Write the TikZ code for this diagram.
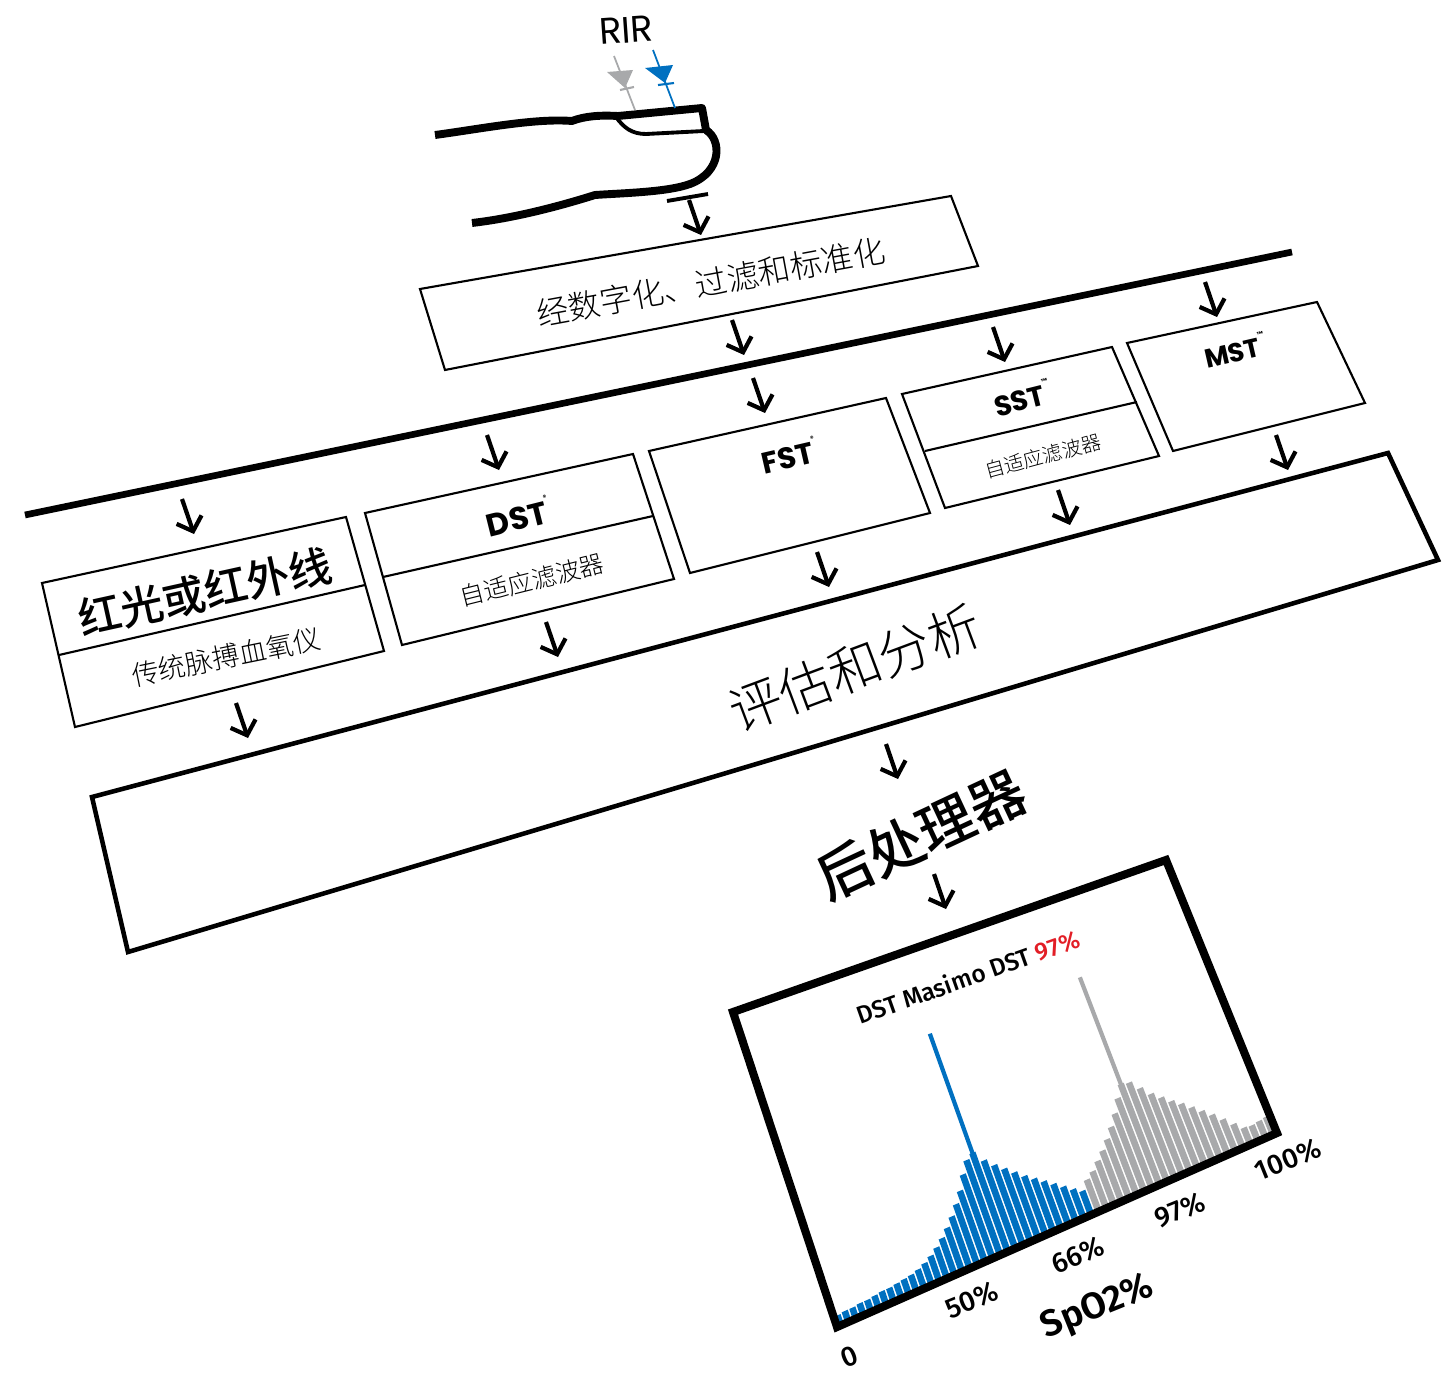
\documentclass[tikz,border=0pt]{standalone}
\usepackage{fontspec}
\setmainfont{Poppins}
\newfontfamily\cjk{Noto Sans CJK SC Medium}
\newfontfamily\cjklight{Noto Sans CJK SC Light}
\newfontfamily\din{Fira Sans Medium}
\newfontfamily\dinbold{Fira Sans SemiBold}
\usetikzlibrary{arrows.meta,calc}

\definecolor{sblue}{RGB}{0,112,192}
\definecolor{sgrey}{RGB}{168,169,171}
\definecolor{sred}{RGB}{226,30,38}

\newcommand{\fs}[1]{\fontsize{#1}{#1}\selectfont}
\newcommand{\regmark}{\raisebox{1.3ex}{\fontsize{4pt}{4pt}\selectfont\char"00AE}}
\newcommand{\tmmark}{\raisebox{1.3ex}{\fontsize{4pt}{4pt}\selectfont\char"2122}}

\begin{document}
\begin{tikzpicture}[x=0.02cm,y=-0.02cm,
  flow/.style={line width=2.4pt,-{Straight Barb[length=7pt,width=15pt]}},
  finger/.style={line width=4.5pt,line join=round},
  thinbox/.style={line width=1.2pt,line join=miter},
  txt/.style={inner sep=0pt}]

  \useasboundingbox (0,0) rectangle (1453,1372);

  % Finger and sensor
  \draw[finger] (435,135) .. controls (480,129) and (535,118) .. (572,121)
    .. controls (585,116) and (600,115) .. (618,116) -- (702,108) -- (706,130)
    .. controls (722,140) and (722,172) .. (690,184)
    .. controls (668,192) and (625,193) .. (595,195)
    .. controls (560,206) and (515,218) .. (472,223);
  \draw[line width=2.2pt] (616,117) .. controls (624,128) and (632,134) .. (646,134) -- (704,131);
  \draw[line width=2.2pt] (667,201) -- (708,194);

  % LEDs
  \draw[sgrey,line width=1pt] (614,56) -- (635,110);
  \fill[sgrey] (607,72) -- (633,70) -- (625,88) -- cycle;
  \draw[sgrey,line width=1.2pt] (620,90) -- (634,87);
  \draw[sblue,line width=1pt] (653,50) -- (675,108);
  \fill[sblue] (645,68) -- (673,65) -- (665,83) -- cycle;
  \draw[sblue,line width=1.2pt] (658,85) -- (674,83);
  \node[txt,rotate=4] (rir) at (626,30) {\fs{21pt}RIR};

  % Bus
  \draw[line width=3.8pt] (25,515) -- (1292,252);

  % Digitising box
  \draw[thinbox] (420,289) -- (951,196) -- (978,266) -- (445,370) -- cycle;
  \node[txt,rotate=10.5] (digit) at (711,282) {\cjklight\fs{18.3pt}经数字化、过滤和标准化};

  % Algorithm boxes
  \draw[thinbox] (42,583) -- (346,517) -- (384,651) -- (75,727) -- cycle;
  \draw[thinbox] (59,655) -- (365,585);
  \node[txt,rotate=12.5] (red) at (205,592) {\cjk\fs{24.5pt}红光或红外线};
  \node[txt,rotate=11.5] (redsub) at (226,657) {\cjklight\fs{15.6pt}传统脉搏血氧仪};

  \draw[thinbox] (365,513) -- (633,454) -- (674,579) -- (402,645) -- cycle;
  \draw[thinbox] (383,577) -- (653,516);
  \node[txt,rotate=14] (dst) at (518,516) {\bfseries\fs{18pt}DST\regmark};
  \node[txt,rotate=14] (dstsub) at (532,580) {\cjklight\fs{14pt}自适应滤波器};

  \draw[thinbox] (649,451) -- (886,398) -- (930,513) -- (690,573) -- cycle;
  \node[txt,rotate=13] (fst) at (789,455) {\bfseries\fs{17pt}FST\regmark};

  \draw[thinbox] (902,394) -- (1112,347) -- (1159,456) -- (945,508) -- cycle;
  \draw[thinbox] (925,451) -- (1137,402);
  \node[txt,rotate=14] (sst) at (1022,398) {\bfseries\fs{16pt}SST\tmmark};
  \node[txt,rotate=15] (sstsub) at (1043,456) {\cjklight\fs{11.3pt}自适应滤波器};

  \draw[thinbox] (1127,343) -- (1317,302) -- (1365,403) -- (1173,451) -- cycle;
  \node[txt,rotate=13] (mst) at (1235,350) {\bfseries\fs{15pt}MST\tmmark};

  % Evaluation
  \draw[line width=2.6pt,line join=miter] (92,797) -- (1388,453) -- (1438,560) -- (128,952) -- cycle;
  \node[txt,rotate=20.5] (eval) at (855,668) {\cjklight\fs{30pt}评估和分析};
  \node[txt,rotate=25] (post) at (921,835) {\cjk\fs{32pt}后处理器};

  % Arrows
  \foreach \n/\ax/\ay in {a0/689/200,a1/732/320,a2/993/327,a3/1205/282,a4/182/499,
      a5/487/435,a6/753/378,a7/546/622,a8/817/552,a9/1058/490,a10/1276/435,
      a11/236/703,a12/886/744,a13/934/874}{
    \coordinate (\n) at (\ax,\ay);
    \draw[flow] (\n) -- ++(12,35);
  }

  % Histogram
  \coordinate (cBL) at (837,1327);
  \coordinate (cBR) at (1277,1133);
  \coordinate (cTL) at (733,1012);
  \coordinate (cTR) at (1166,860);
  \foreach \h [count=\i] in {6,7,7,8,8,9,10,10,11,12,13,15,18,22,27,33,40,48,57,67,80,91,95,84,
      76,69,62,55,49,43,37,31,25,20,28,33,40,47,55,64,74,86,97,95,86,77,70,63,57,50,43,36,28,
      20,13,12,13,14}{
    \pgfmathsetmacro\ta{(\i-1)/58+0.0017}
    \pgfmathsetmacro\tb{\i/58-0.0017}
    \pgfmathsetmacro\s{(\h+4)/(315-42*\ta)}
    \ifnum\i>34 \def\col{sgrey}\else\def\col{sblue}\fi
    \fill[\col] ($(cBL)!\ta!(cBR)$) -- ($(cBL)!\tb!(cBR)$)
      -- ($($(cBL)!\tb!(cBR)$)!\s!($(cTL)!\tb!(cTR)$)$)
      -- ($($(cBL)!\ta!(cBR)$)!\s!($(cTL)!\ta!(cTR)$)$) -- cycle;
  }
  \foreach \tc/\col in {0.388/sblue,0.733/sgrey}
    \draw[\col,line width=2.4pt] ($($(cBL)!\tc!(cBR)$)!0.25!($(cTL)!\tc!(cTR)$)$)
      -- ($($(cBL)!\tc!(cBR)$)!0.73!($(cTL)!\tc!(cTR)$)$);
  \draw[line width=4.6pt,line join=miter] (cTL) -- (cTR) -- (cBR) -- (cBL) -- cycle;

  \node[txt,rotate=19.5] (title) at (968,977) {\din\fs{14pt}DST Masimo DST \textcolor{sred}{97\%}};
  \node[txt,rotate=22] (t0) at (849,1357) {\din\fs{16pt}0};
  \node[txt,rotate=22] (t50) at (972,1300) {\din\fs{16pt}50\%};
  \node[txt,rotate=22] (t66) at (1078,1255) {\din\fs{16pt}66\%};
  \node[txt,rotate=22] (t97) at (1180,1210) {\din\fs{16pt}97\%};
  \node[txt,rotate=22] (t100) at (1288,1160) {\din\fs{16pt}100\%};
  \node[txt,rotate=22] (spo2) at (1098,1308) {\dinbold\fs{21pt}SpO2\%};

\end{tikzpicture}
\end{document}
